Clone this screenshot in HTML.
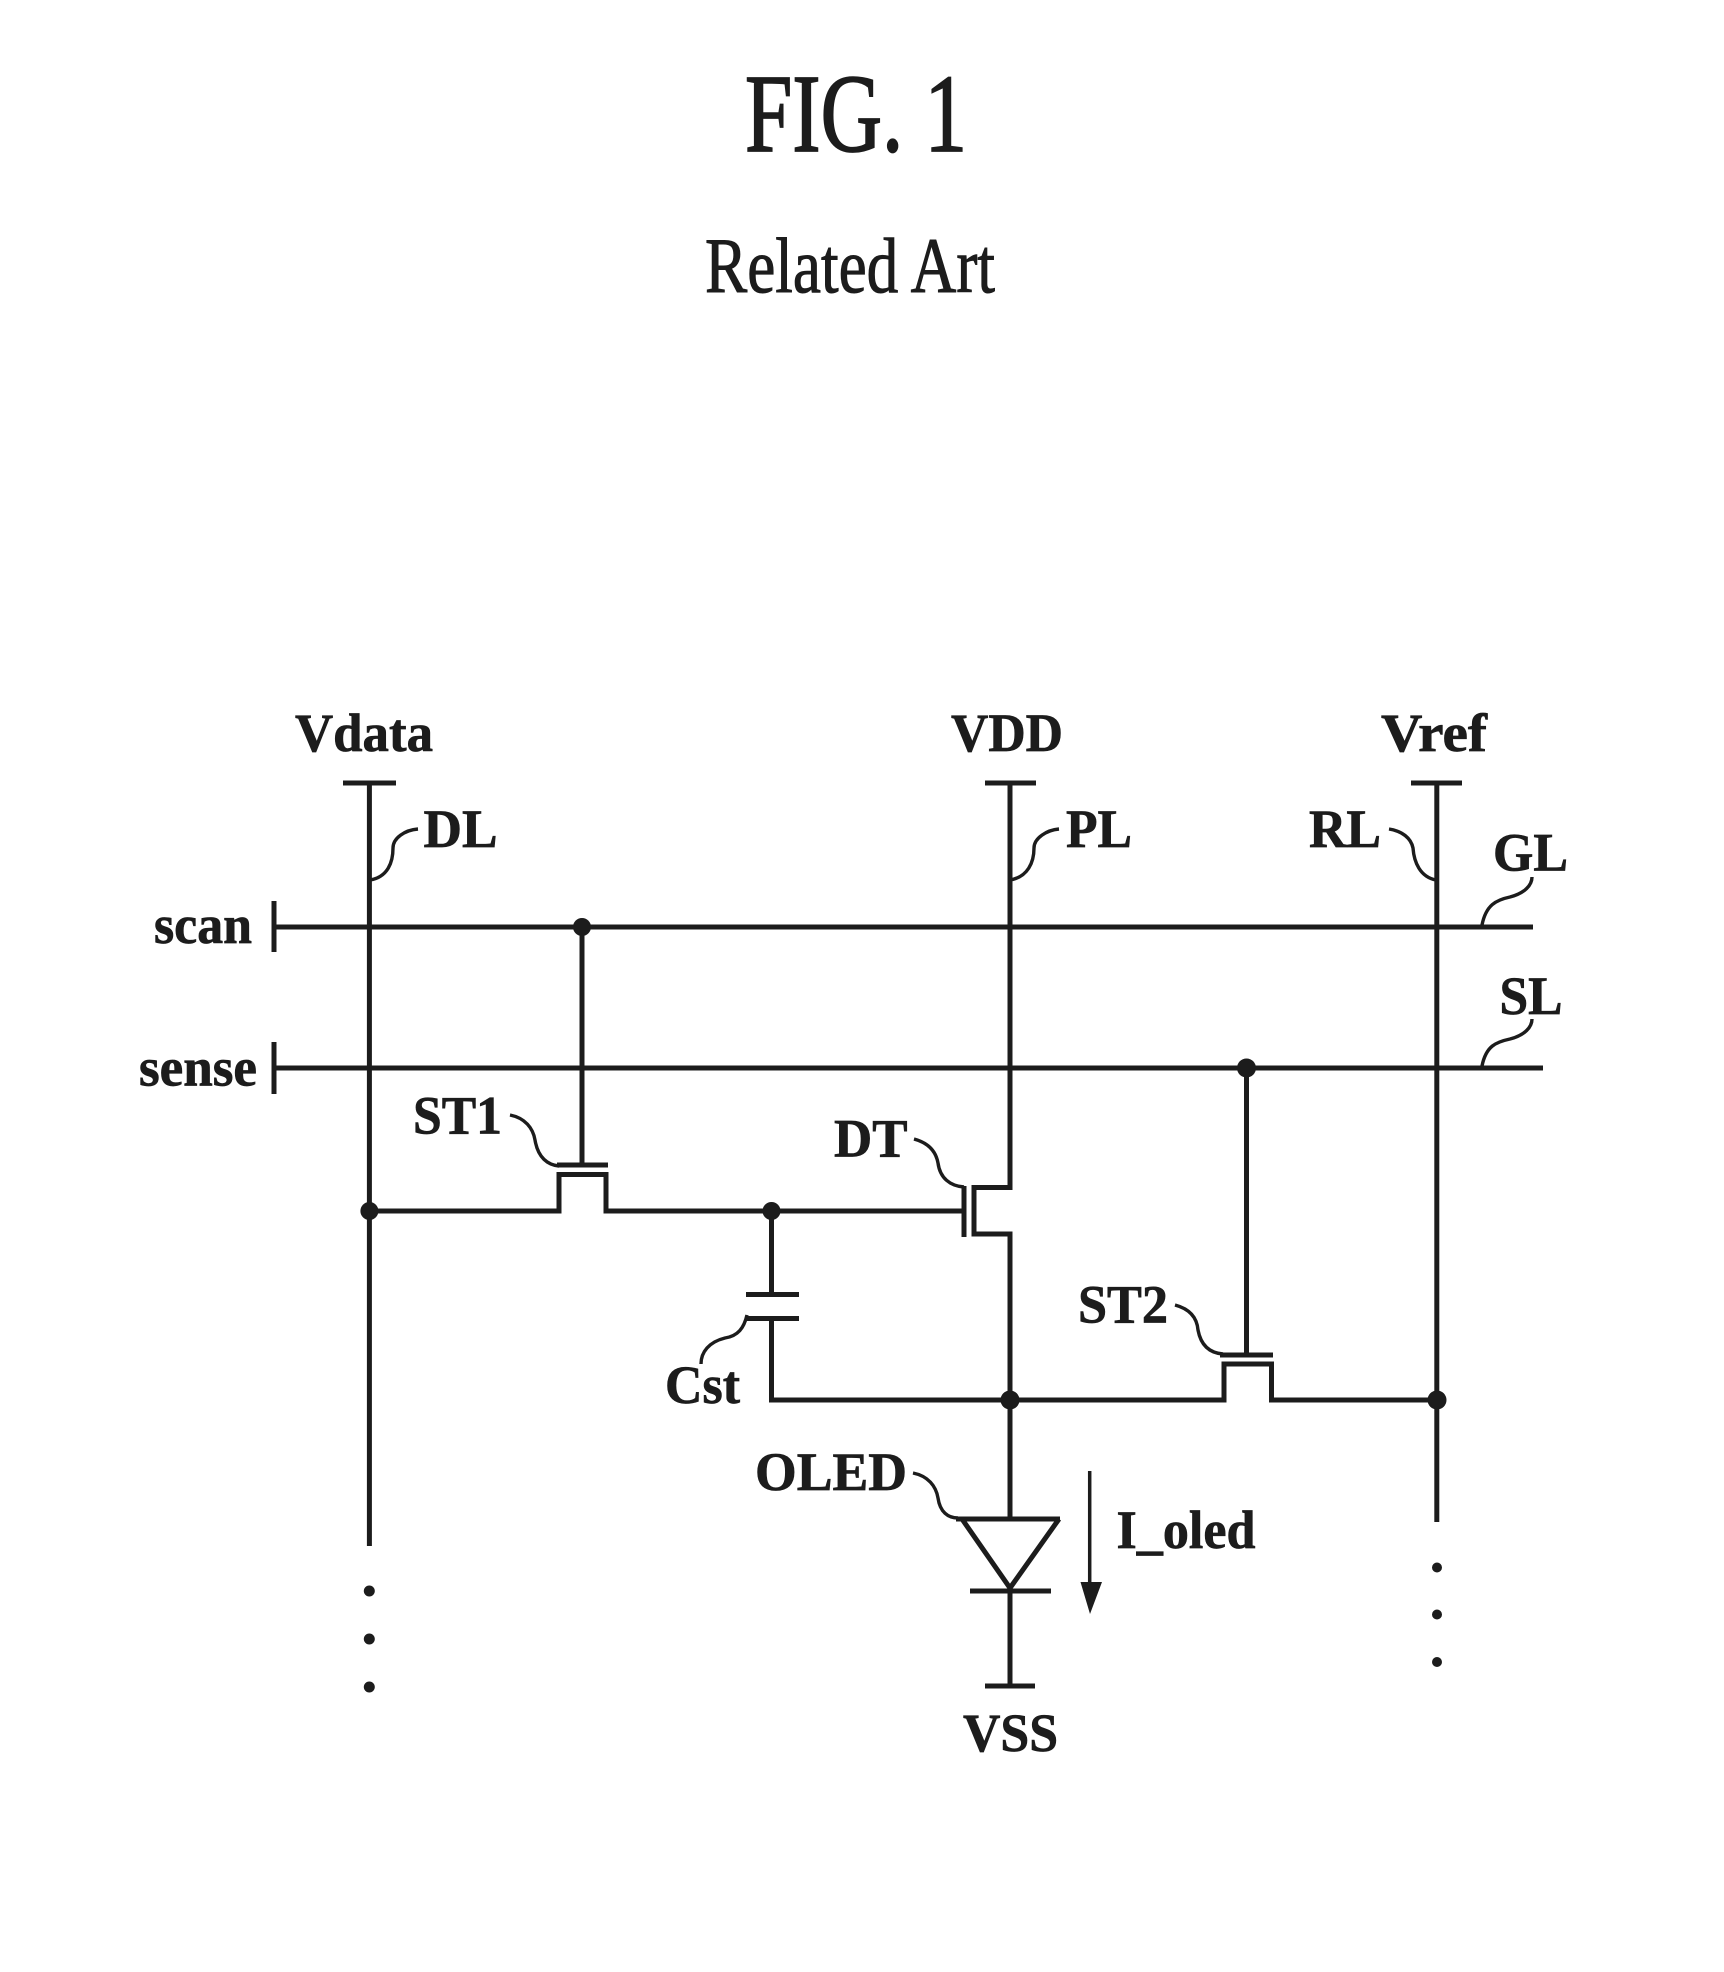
<!DOCTYPE html>
<html><head><meta charset="utf-8"><style>
html,body{margin:0;padding:0;background:#fff}
svg{display:block}
text{font-family:"Liberation Serif",serif;fill:#1c1c1c}
.l{font-weight:bold;font-size:54px;stroke:#1c1c1c;stroke-width:.7}
.w{fill:none;stroke:#1c1c1c;stroke-width:5}
.h{fill:none;stroke:#1c1c1c;stroke-width:3.4}
circle{fill:#1c1c1c}
</style></head><body>
<svg width="1724" height="1972" viewBox="0 0 1724 1972" xmlns="http://www.w3.org/2000/svg">
<text x="745" y="151" font-size="111" textLength="222" lengthAdjust="spacingAndGlyphs" stroke="#1c1c1c" stroke-width="1.8">FIG. 1</text>
<text x="705" y="292" font-size="78" textLength="290" lengthAdjust="spacingAndGlyphs" stroke="#1c1c1c" stroke-width="1">Related Art</text>

<g class="w">
<path d="M343 783H396M369.4 783V1546"/>
<path d="M985 783H1036M1010 783V1187.5H974V1234H1010V1518"/>
<path d="M1411 783H1462M1436.8 783V1522"/>
<path d="M274 901V952M274 927H1533"/>
<path d="M274 1042V1094M274 1068H1543"/>
<path d="M582 927V1165M557 1165H608"/>
<path d="M369.4 1211H559V1174.5H606V1211H964"/>
<path d="M964 1186V1237"/>
<path d="M771.5 1211V1294.5M746 1294.5H799M746 1318.5H799M771.5 1318.5V1400H1224V1364H1271.5V1400H1437"/>
<path d="M1246.5 1068V1355M1220 1355H1273"/>
<path d="M956 1519H1060M962 1519L1010 1588L1059 1519M970 1591H1051M1010 1591V1686M985 1686H1035"/>
</g>
<path d="M1089.7 1471V1590" fill="none" stroke="#1c1c1c" stroke-width="3.5"/>
<path d="M1080.5 1582H1102L1090 1614Z" fill="#1c1c1c"/>

<g class="h">
<path d="M370 880C388 877 393 862 393 848C393 838 405 830 418 829"/>
<path d="M1010 880C1028 877 1034 862 1034 848C1034 838 1047 830 1059 829"/>
<path d="M1436 880C1420 877 1414 862 1413 848C1411 838 1402 831 1389 829"/>
<path d="M1482 925C1486 905 1496 900 1510 897C1525 893 1532 885 1532 877"/>
<path d="M1482 1066C1486 1046 1496 1042 1510 1039C1525 1035 1532 1027 1532 1019"/>
<path d="M510 1115C525 1118 533 1128 535 1140C538 1158 548 1165 559 1166"/>
<path d="M914 1139C929 1143 936 1152 938 1163C940 1178 950 1186 964 1187"/>
<path d="M1175 1305C1190 1309 1197 1318 1198 1330C1201 1346 1210 1353 1223 1354"/>
<path d="M913 1473C928 1476 936 1486 938 1498C940 1512 948 1518 958 1518"/>
<path d="M747 1315C744 1328 738 1336 725 1338C709 1342 701 1352 701 1364"/>
</g>

<g>
<circle cx="582" cy="927" r="9"/><circle cx="1246.5" cy="1068" r="9.5"/>
<circle cx="369.4" cy="1211" r="9"/><circle cx="771.5" cy="1211" r="9"/>
<circle cx="1010" cy="1400" r="9.5"/><circle cx="1437" cy="1400" r="9.5"/>
<circle cx="369.3" cy="1591" r="5.5"/><circle cx="369.3" cy="1639" r="5.5"/><circle cx="369.3" cy="1687" r="5.5"/>
<circle cx="1437" cy="1567.5" r="5"/><circle cx="1437" cy="1614.5" r="5"/><circle cx="1437" cy="1662" r="5"/>
</g>

<g>
<text class="l" x="295" y="751" textLength="138" lengthAdjust="spacingAndGlyphs">Vdata</text>
<text class="l" x="951" y="751" textLength="112" lengthAdjust="spacingAndGlyphs">VDD</text>
<text class="l" x="1381" y="751" textLength="106" lengthAdjust="spacingAndGlyphs">Vref</text>
<text class="l" x="423.5" y="847" textLength="74" lengthAdjust="spacingAndGlyphs">DL</text>
<text class="l" x="1066" y="847" textLength="66" lengthAdjust="spacingAndGlyphs">PL</text>
<text class="l" x="1309" y="847" textLength="72" lengthAdjust="spacingAndGlyphs">RL</text>
<text class="l" x="1493" y="870.5" textLength="75" lengthAdjust="spacingAndGlyphs">GL</text>
<text class="l" x="1499.5" y="1014" textLength="63" lengthAdjust="spacingAndGlyphs">SL</text>
<text class="l" x="154" y="943" textLength="98" lengthAdjust="spacingAndGlyphs">scan</text>
<text class="l" x="139" y="1085.5" textLength="118" lengthAdjust="spacingAndGlyphs">sense</text>
<text class="l" x="413" y="1133.5" textLength="89" lengthAdjust="spacingAndGlyphs">ST1</text>
<text class="l" x="834" y="1156.5" textLength="73.5" lengthAdjust="spacingAndGlyphs">DT</text>
<text class="l" x="1078" y="1322.5" textLength="90" lengthAdjust="spacingAndGlyphs">ST2</text>
<text class="l" x="665" y="1403" textLength="75" lengthAdjust="spacingAndGlyphs">Cst</text>
<text class="l" x="755" y="1490" textLength="152" lengthAdjust="spacingAndGlyphs">OLED</text>
<text class="l" x="1116.5" y="1548" textLength="139" lengthAdjust="spacingAndGlyphs">I_oled</text>
<text class="l" x="963" y="1751" textLength="95" lengthAdjust="spacingAndGlyphs">VSS</text>
</g>
</svg>
</body></html>
